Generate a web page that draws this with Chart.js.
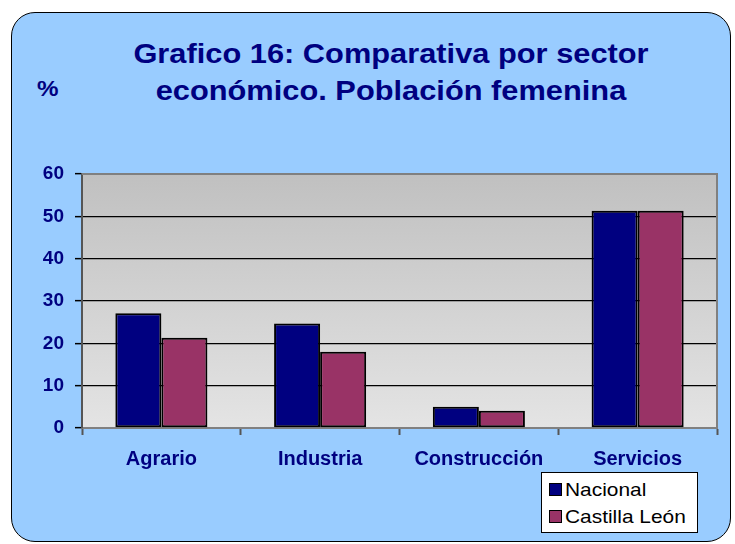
<!DOCTYPE html>
<html>
<head>
<meta charset="utf-8">
<script src="https://cdn.jsdelivr.net/npm/chart.js@4/dist/chart.umd.min.js"></script>
<style>
  html, body { margin:0; padding:0; background:#ffffff; }
  #wrap { position:relative; width:735px; height:544px; overflow:hidden; font-family:"Liberation Sans", Arial, sans-serif; }
  #frame { position:absolute; left:11px; top:12px; width:720px; height:530px; background:#99CCFF; border:1.5px solid #000; border-radius:24px; box-sizing:border-box; }
  #title { position:absolute; left:141px; width:500px; top:35px; text-align:center; color:#000080; font-weight:bold; font-size:28px; line-height:37px; transform:scaleX(1.1); transform-origin:center; white-space:nowrap; }
  #pct { position:absolute; left:37px; top:76px; color:#000080; font-weight:bold; font-size:22px; transform:scaleX(1.1); transform-origin:left; }
  canvas { position:absolute; left:0; top:0; }
  #legend { position:absolute; left:541px; top:472px; width:157px; height:61px; background:#fff; border:1px solid #000; box-sizing:border-box; font-size:19px; color:#000; padding-top:3px; }
  #legend .item { display:flex; align-items:center; height:27px; padding-left:7px; }
  #legend .sw { width:11px; height:11px; border:1.5px solid #000; margin-right:3px; flex:none; }
  #legend .tx { display:inline-block; transform:scaleX(1.1); transform-origin:left; white-space:nowrap; }
</style>
</head>
<body>
<div id="wrap">
  <div id="frame"></div>
  <div id="title">Grafico 16: Comparativa por sector<br>económico. Población femenina</div>
  <div id="pct">%</div>
  <canvas id="c" width="735" height="544"></canvas>
  <div id="legend"></div>
</div>
<script>
const categories = ["Agrario", "Industria", "Construcción", "Servicios"];
const nacional = [27.1, 24.7, 5.0, 51.3];
const castillaLeon = [21.3, 18.0, 4.1, 51.3];
const seriesNames = ["Nacional", "Castilla León"];
const yTicks = [0, 10, 20, 30, 40, 50, 60];

const plotBg = {
  id: 'plotBg',
  beforeDraw(chart) {
    const a = chart.chartArea, ctx = chart.ctx;
    const g = ctx.createLinearGradient(0, a.top, 0, a.bottom);
    g.addColorStop(0, '#C0C0C0');
    g.addColorStop(1, '#E4E4E4');
    ctx.save();
    ctx.fillStyle = g;
    ctx.fillRect(a.left, a.top, a.right - a.left, a.bottom - a.top);
    ctx.restore();
  },
  afterDatasetsDraw(chart) {
    const a = chart.chartArea, ctx = chart.ctx;
    ctx.save();
    ctx.strokeStyle = '#808080';
    ctx.lineWidth = 2;
    ctx.beginPath();
    ctx.moveTo(a.left, a.top);
    ctx.lineTo(a.right, a.top);
    ctx.lineTo(a.right, a.bottom);
    ctx.stroke();
    ctx.restore();
  }
};

const chart = new Chart(document.getElementById('c'), {
  type: 'bar',
  data: {
    labels: categories,
    datasets: [
      { label: seriesNames[0], data: nacional, backgroundColor: '#000080', borderColor: '#000', borderWidth: 2, borderSkipped: false },
      { label: seriesNames[1], data: castillaLeon, backgroundColor: '#993366', borderColor: '#000', borderWidth: 2, borderSkipped: false }
    ]
  },
  options: {
    responsive: false,
    animation: false,
    layout: { padding: { top: 174, right: 18, bottom: 0, left: 0 } },
    datasets: { bar: { categoryPercentage: 0.58, barPercentage: 1.0 } },
    plugins: { legend: { display: false }, title: { display: false }, tooltip: { enabled: false } },
    scales: {
      x: {
        afterFit(s) { s.height = 116; },
        grid: { offset: true, drawOnChartArea: false, tickLength: 7, tickColor: '#555', tickWidth: 2 },
        border: { color: '#808080', width: 2 },
        ticks: { color: '#000080', font: { family: 'Liberation Sans', size: 20, weight: 'bold' }, padding: 12, maxRotation: 0, autoSkip: false }
      },
      y: {
        min: 0, max: 60,
        afterFit(s) { s.width = 82; },
        afterBuildTicks(s) { s.ticks = yTicks.map(v => ({ value: v })); },
        grid: {
          color: ctx => (ctx.tick && ctx.tick.value > 0 && ctx.tick.value < 60) ? '#000' : 'rgba(0,0,0,0)',
          lineWidth: 1.3,
          tickLength: 7,
          tickColor: '#000',
          tickWidth: 1.5
        },
        border: { color: '#555', width: 2 },
        ticks: { color: '#000080', font: { family: 'Liberation Sans', size: 19, weight: 'bold' }, padding: 11 }
      }
    }
  },
  plugins: [plotBg]
});

const leg = document.getElementById('legend');
chart.data.datasets.forEach(ds => {
  const it = document.createElement('div');
  it.className = 'item';
  const sw = document.createElement('span');
  sw.className = 'sw';
  sw.style.background = ds.backgroundColor;
  const tx = document.createElement('span');
  tx.className = 'tx';
  tx.textContent = ds.label;
  it.appendChild(sw); it.appendChild(tx);
  leg.appendChild(it);
});
</script>
</body>
</html>
